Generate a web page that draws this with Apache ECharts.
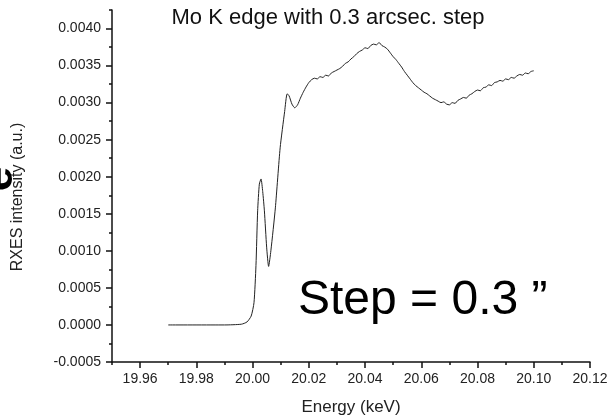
<!DOCTYPE html>
<html>
<head>
<meta charset="utf-8">
<style>
  html, body { margin: 0; padding: 0; background: #fff; }
  #chart { width: 607px; height: 416px; }
</style>
<script src="https://cdn.jsdelivr.net/npm/echarts@6/dist/echarts.min.js"></script>
</head>
<body>
<div id="chart"></div>
<script>
// Energy grid (keV) and RXES intensity (a.u.) of the Mo K edge scan
const energy = [
  19.9700, 19.9900, 19.9960, 19.9980, 19.9995, 20.0005, 20.0012, 20.0018,
  20.0024, 20.0030, 20.0036, 20.0042, 20.0050, 20.0057, 20.0065, 20.0081,
  20.0098, 20.0114, 20.0123, 20.0130, 20.0140, 20.0150,
  20.016, 20.017, 20.018, 20.019, 20.020, 20.021, 20.022, 20.023, 20.024, 20.025,
  20.026, 20.027, 20.028, 20.029, 20.030, 20.031, 20.032, 20.033, 20.034, 20.035,
  20.036, 20.037, 20.038, 20.039, 20.040, 20.041, 20.042, 20.043, 20.044, 20.045,
  20.046, 20.047, 20.048, 20.049, 20.050, 20.051, 20.052, 20.053, 20.054, 20.055,
  20.056, 20.057, 20.058, 20.059, 20.060, 20.061, 20.062, 20.063, 20.064, 20.065,
  20.066, 20.067, 20.068, 20.069, 20.070, 20.071, 20.072, 20.073, 20.074, 20.075,
  20.076, 20.077, 20.078, 20.079, 20.080, 20.081, 20.082, 20.083, 20.084, 20.085,
  20.086, 20.087, 20.088, 20.089, 20.090, 20.091, 20.092, 20.093, 20.094, 20.095,
  20.096, 20.097, 20.098, 20.099, 20.100
];
const intensity = [
  0.00000, 0.00000, 0.00001, 0.00004, 0.00012, 0.00030, 0.00080, 0.00154,
  0.00190, 0.00197, 0.00180, 0.00154, 0.00105, 0.00079, 0.00100, 0.00158,
  0.00239, 0.00288, 0.00312, 0.00309, 0.00298, 0.00293,
  0.00297, 0.00306, 0.00314, 0.00321, 0.00327, 0.00331, 0.00333, 0.00332, 0.00335, 0.00334,
  0.00337, 0.00336, 0.00340, 0.00342, 0.00344, 0.00346, 0.00349, 0.00353, 0.00355, 0.00359,
  0.00362, 0.00366, 0.00369, 0.00371, 0.00374, 0.00373, 0.00377, 0.00379, 0.00378, 0.00381,
  0.00377, 0.00375, 0.00372, 0.00367, 0.00362, 0.00358, 0.00353, 0.00348, 0.00342, 0.00337,
  0.00332, 0.00327, 0.00323, 0.00320, 0.00317, 0.00314, 0.00312, 0.00309, 0.00306, 0.00304,
  0.00302, 0.00300, 0.00301, 0.00298, 0.00297, 0.00300, 0.00299, 0.00303, 0.00305, 0.00307,
  0.00306, 0.00310, 0.00312, 0.00315, 0.00317, 0.00316, 0.00320, 0.00321, 0.00324, 0.00323,
  0.00327, 0.00328, 0.00330, 0.00329, 0.00332, 0.00331, 0.00334, 0.00333, 0.00336, 0.00338,
  0.00337, 0.00340, 0.00339, 0.00342, 0.00343
];

// Axis ticks
const xMajorTicks = [19.96, 19.98, 20.00, 20.02, 20.04, 20.06, 20.08, 20.10, 20.12];
const xMinorTicks = [19.95, 19.97, 19.99, 20.01, 20.03, 20.05, 20.07, 20.09, 20.11];
const yMajorTicks = [-0.0005, 0.0000, 0.0005, 0.0010, 0.0015, 0.0020, 0.0025, 0.0030, 0.0035, 0.0040];
const yMinorTicks = [-0.00025, 0.00025, 0.00075, 0.00125, 0.00175, 0.00225, 0.00275, 0.00325, 0.00375, 0.00425];

const chartTitle = 'Mo K edge with 0.3 arcsec. step';
const xName = 'Energy (keV)';
const yName = 'RXES intensity (a.u.)';
const stepNote = 'Step = 0.3 \u201D';

const FONT = '"Liberation Sans", Arial, sans-serif';
const chart = echarts.init(document.getElementById('chart'), null, { renderer: 'canvas' });

const xRange = { min: 19.95, max: 20.12 };
const yRange = { min: -0.0005, max: 0.00425 };
const axisInk = { color: '#111', width: 1.5 };

chart.setOption({
  animation: false,
  backgroundColor: '#fff',
  title: {
    text: chartTitle,
    left: 323,
    top: 2,
    textAlign: 'center',
    textStyle: { fontFamily: FONT, fontSize: 22, fontWeight: 'normal', color: '#111' }
  },
  grid: { left: 112, right: 17, top: 10, bottom: 54, outerBoundsMode: 'none', containLabel: false },
  xAxis: [
    {
      type: 'value', ...xRange,
      name: xName, nameLocation: 'middle', nameGap: 37,
      nameTextStyle: { fontFamily: FONT, fontSize: 17, color: '#222' },
      axisLine: { show: true, onZero: false, lineStyle: axisInk },
      axisTick: { show: true, customValues: xMajorTicks, length: 6, lineStyle: axisInk },
      axisLabel: {
        customValues: xMajorTicks, margin: 10,
        fontFamily: FONT, fontSize: 14, color: '#222',
        formatter: v => v.toFixed(2)
      },
      splitLine: { show: false }
    },
    {
      type: 'value', ...xRange, position: 'bottom',
      axisLine: { show: false, onZero: false },
      axisTick: { show: true, customValues: xMinorTicks, length: 3, lineStyle: axisInk },
      axisLabel: { show: false },
      splitLine: { show: false }
    }
  ],
  yAxis: [
    {
      type: 'value', ...yRange,
      axisLine: { show: true, onZero: false, lineStyle: axisInk },
      axisTick: { show: true, customValues: yMajorTicks, length: 6, lineStyle: axisInk },
      axisLabel: {
        customValues: yMajorTicks, margin: 11,
        fontFamily: FONT, fontSize: 14, color: '#222',
        formatter: v => v.toFixed(4)
      },
      splitLine: { show: false }
    },
    {
      type: 'value', ...yRange, position: 'left',
      axisLine: { show: false, onZero: false },
      axisTick: { show: true, customValues: yMinorTicks, length: 3, lineStyle: axisInk },
      axisLabel: { show: false },
      splitLine: { show: false }
    }
  ],
  series: [{
    type: 'line',
    xAxisIndex: 0, yAxisIndex: 0,
    data: energy.map((e, i) => [e, intensity[i]]),
    showSymbol: false,
    smooth: 0.2,
    lineStyle: { color: '#222', width: 1 }
  }],
  graphic: [
    {
      // vertical y-axis title
      type: 'text', x: 18, y: 197, rotation: Math.PI / 2,
      style: {
        text: yName, fontFamily: FONT, fontSize: 16, fill: '#222',
        textAlign: 'center', textVerticalAlign: 'middle'
      }
    },
    {
      type: 'text', left: 298, top: 277,
      style: { text: stepNote, fontFamily: FONT, fontSize: 48, fill: '#000' }
    },
    {
      // edge of a larger heading running off the left side
      type: 'text', x: 0, y: 179, rotation: Math.PI / 2,
      style: {
        text: 'e', fontFamily: FONT, fontSize: 44, fontWeight: 'bold', fill: '#000',
        textAlign: 'center', textVerticalAlign: 'middle'
      }
    }
  ]
});
</script>
</body>
</html>
